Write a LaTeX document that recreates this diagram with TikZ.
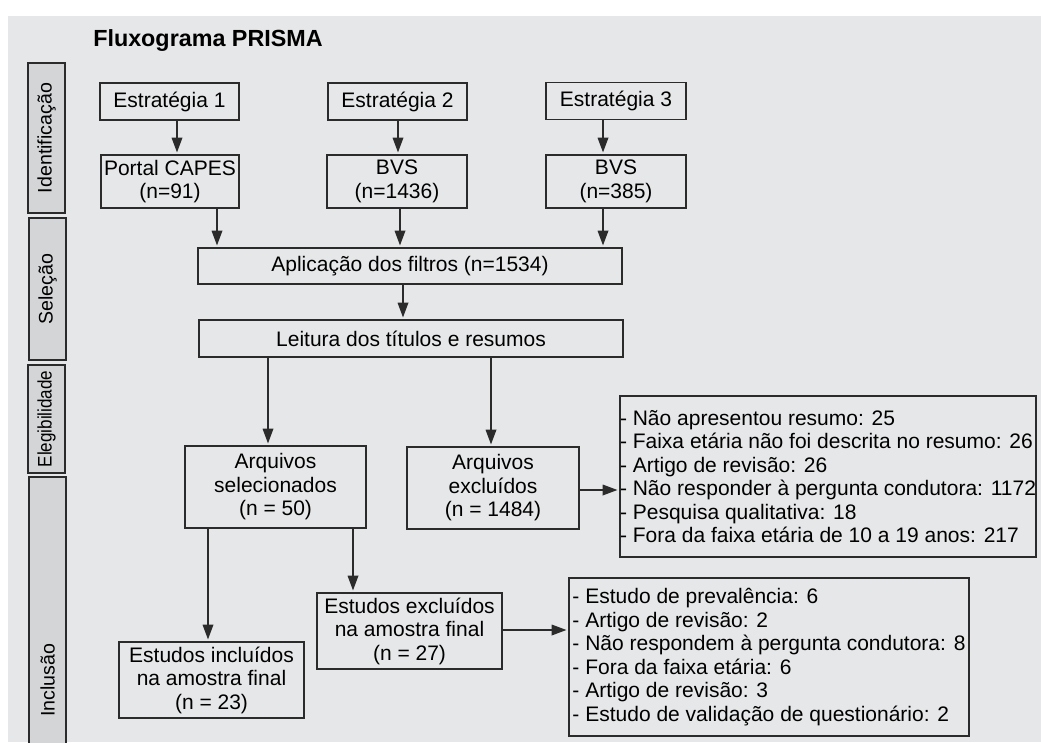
\documentclass[tikz,border=0pt]{standalone}
\usepackage{fontspec}
\usepackage{graphicx}
\setmainfont{Liberation Sans}
\usetikzlibrary{arrows.meta}
\definecolor{bgc}{HTML}{E6E7E8}
\definecolor{sidec}{HTML}{D4D5D7}
\definecolor{linec}{HTML}{2B2B2B}
\begin{document}
\begin{tikzpicture}[x=0.75pt,y=-0.75pt,
  box/.style={draw=linec, line width=0.9pt, inner sep=0pt, align=center,
    font=\fontsize{15.75}{17.6}\selectfont},
  lst/.style={draw=linec, line width=0.9pt, inner sep=0pt, align=left,
    font=\fontsize{15.75}{17.6}\selectfont},
  arr/.style={draw=linec, line width=0.9pt, -{Triangle[length=11pt,width=8pt]}, shorten >=1.5pt},
  sidebox/.style={fill=sidec, draw=linec, line width=0.9pt},
  sidelab/.style={rotate=90, font=\fontsize{14.7}{17}\selectfont, inner sep=0pt}]
\useasboundingbox (0,0) rectangle (1041,742);
\fill[bgc] (8,16) rectangle (1041,742);

% title
\node[anchor=base west, inner sep=0pt, font=\bfseries\fontsize{17.5}{20}\selectfont] (title) at (93,46) {Fluxograma PRISMA};

% side labels
\path[sidebox] (28,63) rectangle (65,213);
\node[sidelab] (lid) at (46.5,138) {Identificação};
\path[sidebox] (29,218) rectangle (66,360);
\node[sidelab] (lsel) at (47.5,289) {Seleção};
\path[sidebox] (28,365) rectangle (65,473);
\node[sidelab] (leleg) at (46.5,419) {\scalebox{0.87}[1]{Elegibilidade}};
\path[sidebox] (29,746) -- (29,477) -- (66,477) -- (66,746);
\node[sidelab] (linc) at (47.5,680) {Inclusão};

% boxes
\node[box, minimum width={139*0.75pt}, minimum height={37*0.75pt}] (s1) at (169.5,101.5) {Estratégia 1};
\node[box, minimum width={139*0.75pt}, minimum height={37*0.75pt}] (s2) at (397.5,101.5) {Estratégia 2};
\node[box, minimum width={140*0.75pt}, minimum height={37*0.75pt}] (s3) at (616,101) {Estratégia 3};
\node[box, minimum width={138*0.75pt}, minimum height={53*0.75pt}] (p1) at (170,181.5) {Portal CAPES\\(n=91)};
\node[box, minimum width={140*0.75pt}, minimum height={53*0.75pt}] (b2) at (397,181.5) {BVS\\(n=1436)};
\node[box, minimum width={140*0.75pt}, minimum height={53*0.75pt}] (b3) at (616,181.5) {BVS\\(n=385)};
\node[box, minimum width={424*0.75pt}, minimum height={36*0.75pt}] (filt) at (410,266) {Aplicação dos filtros (n=1534)};
\node[box, minimum width={424*0.75pt}, minimum height={37*0.75pt}] (leit) at (411,338.5) {Leitura dos títulos e resumos};
\node[box, minimum width={181*0.75pt}, minimum height={82*0.75pt}] (asel) at (275.5,487) {Arquivos\\selecionados\\(n = 50)};
\node[box, minimum width={172*0.75pt}, minimum height={82*0.75pt}] (aexc) at (493,488) {Arquivos\\excluídos\\(n = 1484)};
\node[lst, minimum width={412*0.75pt}, minimum height={161*0.75pt}] (list1) at (828,476.5) {- Não apresentou resumo: 25\\- Faixa etária não foi descrita no resumo: 26\\- Artigo de revisão: 26\\- Não responder à pergunta condutora: 1172\\- Pesquisa qualitativa: 18\\- Fora da faixa etária de 10 a 19 anos: 217};
\node[box, minimum width={185*0.75pt}, minimum height={76*0.75pt}] (eexc) at (409.5,631) {Estudos excluídos\\na amostra final\\(n = 27)};
\node[box, minimum width={185*0.75pt}, minimum height={76*0.75pt}] (einc) at (211.5,680) {Estudos incluídos\\na amostra final\\(n = 23)};
\node[lst, minimum width={400*0.75pt}, minimum height={158*0.75pt}] (list2) at (769,657) {- Estudo de prevalência: 6\\- Artigo de revisão: 2\\- Não respondem à pergunta condutora: 8\\- Fora da faixa etária: 6\\- Artigo de revisão: 3\\- Estudo de validação de questionário: 2};

% connectors
\draw[arr] (s1.south -| 177,0) -- (p1.north -| 177,0);
\draw[arr] (s2.south -| 398,0) -- (b2.north -| 398,0);
\draw[arr] (s3.south -| 603,0) -- (b3.north -| 603,0);
\draw[arr] (p1.south -| 217,0) -- (filt.north -| 217,0);
\draw[arr] (b2.south -| 400,0) -- (filt.north -| 400,0);
\draw[arr] (b3.south -| 603,0) -- (filt.north -| 603,0);
\draw[arr] (filt.south -| 403,0) -- (leit.north -| 403,0);
\draw[arr] (leit.south -| 268,0) -- (asel.north -| 268,0);
\draw[arr] (leit.south -| 491,0) -- (aexc.north -| 491,0);
\draw[arr] (aexc.east |- 0,490) -- (list1.west |- 0,490);
\draw[arr] (asel.south -| 208,0) -- (einc.north -| 208,0);
\draw[arr] (asel.south -| 353,0) -- (eexc.north -| 353,0);
\draw[arr] (eexc.east |- 0,630) -- (list2.west |- 0,630);
\end{tikzpicture}
\end{document}
